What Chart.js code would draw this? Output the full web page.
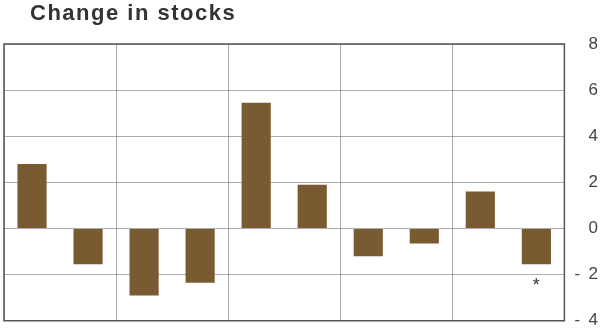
<!DOCTYPE html>
<html>
<head>
<meta charset="utf-8">
<script src="https://cdn.jsdelivr.net/npm/chart.js@4/dist/chart.umd.min.js"></script>
<style>
  html, body { margin: 0; padding: 0; background: #fff; }
  #wrap { width: 600px; height: 330px; position: relative; }
</style>
</head>
<body>
<div id="wrap"><canvas id="chart"></canvas></div>
<script>
// values
var quarters = ['1', '2', '3', '4', '5', '6', '7', '8', '9', '10'];
var stockChange = [2.8, -1.55, -2.9, -2.35, 5.45, 1.9, -1.2, -0.65, 1.6, -1.55];
var yTicks = [-4, -2, 0, 2, 4, 6, 8];
var titleText = 'Change in stocks';
var noteIndex = 9;      // bar with the asterisk
var noteValue = -2.35;

var barColor = '#7a5a30';
var gridColor = 'rgba(90,90,90,0.5)';
var frameColor = '#555';

var extras = {
    id: 'extras',
    afterDraw: function(chart) {
        var ctx = chart.ctx;
        var a = chart.chartArea;
        ctx.save();
        // frame round the plot
        ctx.strokeStyle = frameColor;
        ctx.lineWidth = 1.5;
        ctx.strokeRect(a.left, a.top, a.right - a.left, a.bottom - a.top);
        // title
        ctx.fillStyle = '#333';
        ctx.font = 'bold 22px "Liberation Sans", Arial, sans-serif';
        ctx.letterSpacing = '1.5px';
        ctx.textBaseline = 'alphabetic';
        ctx.textAlign = 'left';
        ctx.fillText(titleText, 30, 20);
        ctx.letterSpacing = '0px';
        // asterisk note
        var x = chart.scales.x.getPixelForValue(noteIndex);
        var y = chart.scales.y.getPixelForValue(noteValue);
        ctx.font = '18px "Liberation Sans", Arial, sans-serif';
        ctx.textAlign = 'center';
        ctx.textBaseline = 'middle';
        ctx.fillStyle = '#333';
        ctx.fillText('*', x, y + 3);
        ctx.restore();
    }
};

new Chart(document.getElementById('chart'), {
    type: 'bar',
    data: {
        labels: quarters,
        datasets: [{
            data: stockChange,
            backgroundColor: barColor,
            borderWidth: 0,
            categoryPercentage: 1,
            barPercentage: 0.52
        }]
    },
    options: {
        responsive: true,
        maintainAspectRatio: false,
        animation: false,
        layout: { padding: { top: 44, left: 4, right: 2, bottom: 8 } },
        plugins: {
            legend: { display: false },
            title: { display: false },
            tooltip: { enabled: false }
        },
        scales: {
            x: {
                z: 1,
                ticks: { display: false },
                border: { display: false },
                afterFit: function(s) { s.height = 0; },
                grid: {
                    offset: true,
                    drawTicks: false,
                    lineWidth: 1,
                    color: function(c) { return c.index % 2 === 0 ? gridColor : 'rgba(0,0,0,0)'; }
                }
            },
            y: {
                position: 'right',
                z: 1,
                min: -4,
                max: 8,
                afterBuildTicks: function(s) { s.ticks = yTicks.map(function(v) { return { value: v }; }); },
                border: { display: false },
                grid: { drawTicks: false, color: gridColor, lineWidth: 1 },
                ticks: {
                    padding: 5,
                    crossAlign: 'far',
                    color: '#444',
                    font: { family: '"Liberation Sans", Arial, sans-serif', size: 17, lineHeight: 0.5 },
                    callback: function(v) { return v < 0 ? '-\u2002' + Math.abs(v) : String(v); }
                }
            }
        }
    },
    plugins: [extras]
});
</script>
</body>
</html>
